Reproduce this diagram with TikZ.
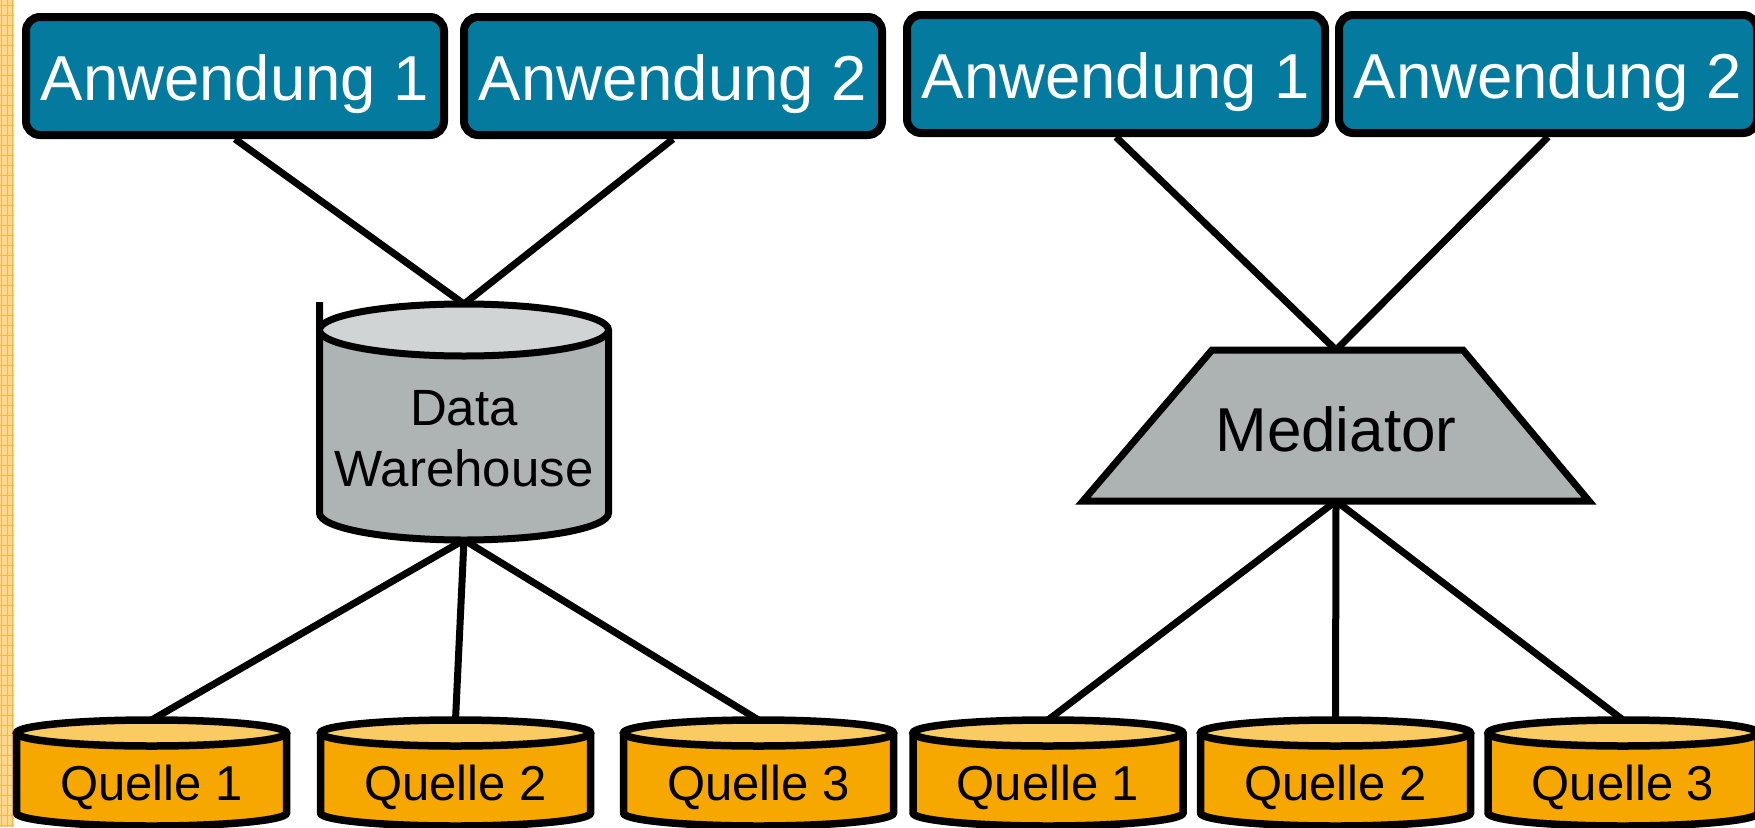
\documentclass[tikz,border=0pt]{standalone}
\usepackage{fontspec}
\setmainfont{Liberation Sans}
\pgfdeclarelayer{wires}
\pgfsetlayers{wires,main}
\definecolor{appblue}{HTML}{037A9E}
\definecolor{srcbody}{HTML}{F7A800}
\definecolor{srctop}{HTML}{FACB62}
\definecolor{dwbody}{HTML}{AEB3B3}
\definecolor{dwtop}{HTML}{D1D4D5}
\definecolor{medfill}{HTML}{ADB2B2}
\definecolor{stripebg}{HTML}{FCD88F}
\definecolor{stripeln}{HTML}{F8B83A}
\begin{document}
\begin{tikzpicture}[x=1pt,y=-1pt,
  app/.style={draw=black, line width=8pt, fill=appblue, rounded corners=14pt,
    minimum width=418pt, minimum height=118pt, inner sep=0pt, text=white,
    font=\fontsize{63.5}{76}\selectfont, text height=48pt, text depth=0pt},
  hold/.style={draw=none, inner sep=0pt, outer sep=0pt},
  srcnode/.style={hold, minimum width=270pt, minimum height=106pt,
    font=\fontsize{49}{59}\selectfont, text height=54pt, text depth=0pt},
  mednode/.style={hold, minimum width=506pt, minimum height=151pt,
    font=\fontsize{62}{74}\selectfont, text height=51pt, text depth=0pt},
  dwlabel/.style={inner sep=0pt, align=center, font=\fontsize{51}{61}\selectfont},
  outline/.style={draw=black, line width=7.5pt},
  wire/.style={draw=black, line width=7pt}]
\useasboundingbox (0,0) rectangle (1755,827);
\clip (0,0) rectangle (1755,827);

% grid strip along the left edge
\fill[stripebg] (0,0) rectangle (14,827);
\foreach \gx in {1.5,7,12.5} \draw[stripeln, line width=1pt] (\gx,0) -- (\gx,827);
\foreach \gy in {5,15,...,825} \draw[stripeln, line width=1pt] (0,\gy) -- (14,\gy);

% data warehouse drum
\fill[dwbody] (319.5,330) -- (319.5,513)
  arc[start angle=180, end angle=360, x radius=144.5pt, y radius=27pt] -- (608.5,330) -- cycle;
\draw[outline, line width=7pt] (319.5,302) -- (319.5,513)
  arc[start angle=180, end angle=360, x radius=144.5pt, y radius=27pt] -- (608.5,330);
\filldraw[outline, line width=7pt, fill=dwtop] (464,330) ellipse[x radius=144.5pt, y radius=26pt];

% mediator
\filldraw[outline, line width=7pt, fill=medfill, line join=miter]
  (1083,501) -- (1212,350) -- (1463,350) -- (1589,501) -- cycle;

% source drums
\foreach \cx in {151.5,455.5,758.5,1048,1335.5,1623} {
  \fill[srcbody] (\cx-135,733) -- (\cx-135,813)
    arc[start angle=180, end angle=360, x radius=135pt, y radius=13pt] -- (\cx+135,733) -- cycle;
  \draw[outline] (\cx-135,733) -- (\cx-135,813)
    arc[start angle=180, end angle=360, x radius=135pt, y radius=13pt] -- (\cx+135,733);
  \filldraw[outline, fill=srctop] (\cx,733) ellipse[x radius=135pt, y radius=13pt];
}

% applications
\node[app] (la1) at (235,76) {Anwendung 1};
\node[app] (la2) at (673,76) {Anwendung 2};
\node[app] (ra1) at (1116,74) {Anwendung 1};
\node[app] (ra2) at (1548,74) {Anwendung 2};

% warehouse and mediator
\node[hold, minimum width=289pt, minimum height=236pt] (dw) at (464,422) {};
\node[dwlabel, anchor=north] (dwtext) at (464,390.5) {Data\\Warehouse};
\node[mednode] (med) at (1336,425.5) {Mediator};

% sources
\node[srcnode] (lq1) at (151.5,773) {Quelle 1};
\node[srcnode] (lq2) at (455.5,773) {Quelle 2};
\node[srcnode] (lq3) at (758.5,773) {Quelle 3};
\node[srcnode] (rq1) at (1048,773) {Quelle 1};
\node[srcnode] (rq2) at (1335.5,773) {Quelle 2};
\node[srcnode] (rq3) at (1623,773) {Quelle 3};

% connections
\begin{pgfonlayer}{wires}
  \draw[wire] (la1.south) -- (dw.north);
  \draw[wire] (la2.south) -- (dw.north);
  \draw[wire] (dw.south) -- (lq1.north);
  \draw[wire] (dw.south) -- (lq2.north);
  \draw[wire] (dw.south) -- (lq3.north);
  \draw[wire] (ra1.south) -- (med.north);
  \draw[wire] (ra2.south) -- (med.north);
  \draw[wire] (med.south) -- (rq1.north);
  \draw[wire] (med.south) -- (rq2.north);
  \draw[wire] (med.south) -- (rq3.north);
\end{pgfonlayer}
\end{tikzpicture}
\end{document}
